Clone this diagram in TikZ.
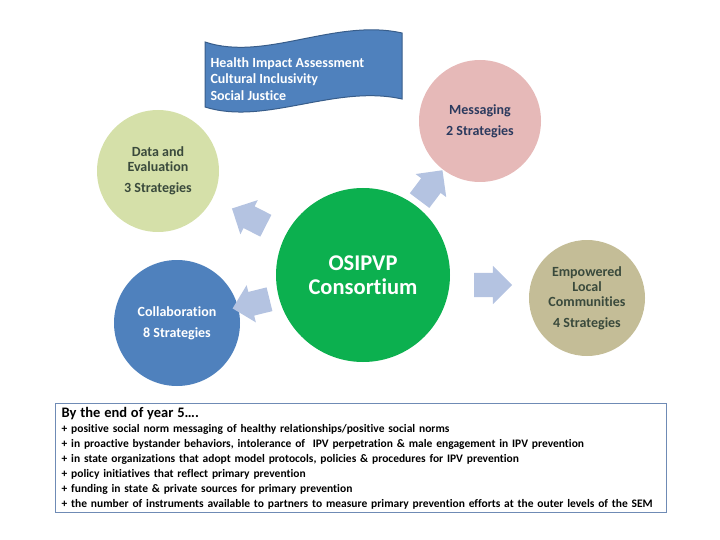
\documentclass[tikz,border=0pt]{standalone}
\usepackage{fontspec}
\setmainfont[Ligatures=NoCommon]{Carlito}
\usetikzlibrary{shapes.arrows,calc,positioning}
\definecolor{hubGreen}{HTML}{0CB04F}
\definecolor{msgPink}{HTML}{E6B9B8}
\definecolor{dataLime}{HTML}{D5E0A9}
\definecolor{collabBlue}{HTML}{4F81BD}
\definecolor{commTan}{HTML}{C4BD97}
\definecolor{pushBlue}{HTML}{B4C3E1}
\definecolor{bannerEdge}{HTML}{385D8A}
\definecolor{navyText}{HTML}{2B3A5E}
\definecolor{slateText}{HTML}{3A4A3C}
\definecolor{boxEdge}{HTML}{6F8BB5}
\tikzset{
  every node/.style={font=\bfseries},
  hub/.style={circle,minimum size=#1,inner sep=0pt,align=center},
  push/.style={single arrow,fill=pushBlue,draw=none,inner sep=0pt,
    text height=12pt,text depth=12pt,minimum height=38pt,single arrow head extend=7pt},
}

\begin{document}
\begin{tikzpicture}[x=1pt,y=-1pt]
\useasboundingbox (0,0) rectangle (720,540);

% circles
\node[hub=174pt,fill=hubGreen,text=white,font=\bfseries\fontsize{22.5}{24}\selectfont]
  (osipvp) at (363,275) {OSIPVP\\Consortium};
\node[hub=122pt,fill=msgPink,text=navyText,font=\bfseries\fontsize{14}{21}\selectfont]
  (msg) at (480,121) {Messaging\\2 Strategies};
\node[hub=122pt,fill=dataLime,text=slateText,font=\bfseries\fontsize{14}{15}\selectfont]
  (data) at (158,171) {Data and\\Evaluation\\[6pt]3 Strategies};
\node[hub=126pt,fill=collabBlue,text=white,font=\bfseries\fontsize{14}{21}\selectfont]
  (collab) at (177,323) {Collaboration\\8 Strategies};
\node[hub=116pt,fill=commTan,text=slateText,font=\bfseries\fontsize{14}{15}\selectfont]
  (comm) at (587,298) {Empowered\\Local\\Communities\\[6pt]4 Strategies};

% block arrows
\node[push,rotate=153] (toData) at ($(osipvp)!0.53!(data)$) {};
\node[push,rotate=53] (toMsg) at ($(osipvp)!0.55!(msg)$) {};
\node[push] (toComm) at (487,285) {};
\node[push,rotate=194] (toCollab) at ($(osipvp)!0.57!(collab)$) {};

% banner
\fill[collabBlue,draw=bannerEdge,line width=1pt]
  (205,42) .. controls (265,62) and (335,18) .. (402,33)
  -- (402,99) .. controls (335,84) and (265,126) .. (205,107) -- cycle;
\node[anchor=north west,text=white,align=left,font=\bfseries\fontsize{14}{16.5}\selectfont]
  (values) at (207,54) {Health Impact Assessment\\Cultural Inclusivity\\Social Justice};

% goals box
\node[draw=boxEdge,line width=1.3pt,fill=white,anchor=north west,align=left,
  minimum width=611pt,minimum height=109pt,text width=599pt,inner xsep=6pt,inner ysep=3pt,
  font=\bfseries\fontsize{11.5}{15}\selectfont] (goals) at (55,403)
  {{\fontsize{14.5}{15}\selectfont By the end of year 5….}\\
   + positive social norm messaging of healthy relationships/positive social norms\\
   + in proactive bystander behaviors, intolerance of\ \ IPV perpetration \& male engagement in IPV prevention\\
   + in state organizations that adopt model protocols, policies \& procedures for IPV prevention\\
   + policy initiatives that reflect primary prevention\\
   + funding in state \& private sources for primary prevention\\
   + the number of instruments available to partners to measure primary prevention efforts at the outer levels of the SEM};
\end{tikzpicture}
\end{document}
